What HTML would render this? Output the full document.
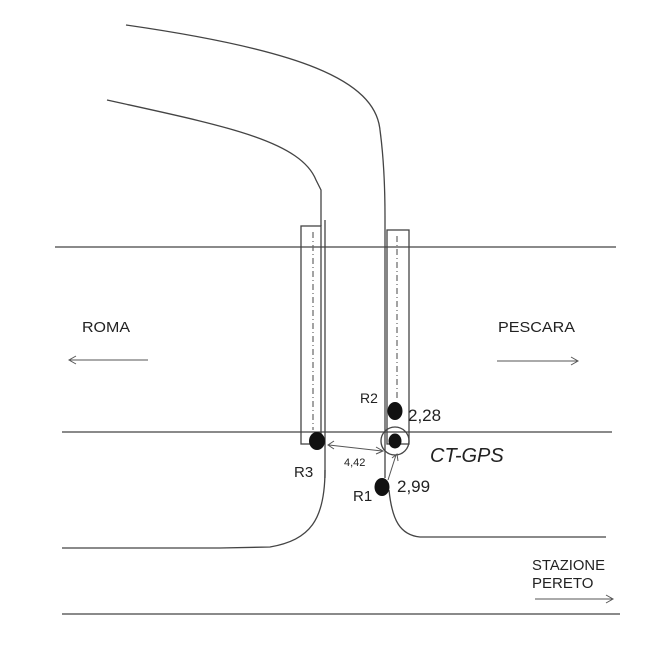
<!DOCTYPE html>
<html><head><style>
html,body{margin:0;padding:0;background:#fff;}
svg{display:block;}
text{font-family:"Liberation Sans",sans-serif;fill:#222;}
</style></head><body>
<svg width="649" height="649" viewBox="0 0 649 649" xmlns="http://www.w3.org/2000/svg">
<g fill="none" stroke="#444" stroke-width="1.3">
<line x1="55" y1="247" x2="616" y2="247"/>
<line x1="62" y1="432" x2="612" y2="432"/>
<line x1="62" y1="614" x2="620" y2="614"/>
<path d="M107 100 C220 125 300 140 316 180 L321 190 L321 226"/>
<path d="M126 25 C300 50 375 80 380 130 C384 160 385 190 385 217"/>
<line x1="325" y1="220" x2="325" y2="478"/>
<line x1="385" y1="217" x2="385" y2="478"/>
<path d="M325 470 C325 520 310 540 270 547 L220 548 L62 548"/>
<path d="M389 490 C392 520 400 535 420 537 L606 537"/>
<rect x="301" y="226" width="20" height="218"/>
<rect x="387" y="230" width="22" height="214"/>
<circle cx="395" cy="441" r="14"/>
</g>
<g stroke="#666" stroke-width="1.2" stroke-dasharray="6,3,1,3">
<line x1="313" y1="232" x2="313" y2="430"/>
<line x1="397" y1="236" x2="397" y2="400"/>
</g>
<g stroke="#555" stroke-width="1" fill="none">
<line x1="70" y1="360" x2="148" y2="360"/><path d="M76 356 L69 360 L76 364"/>
<line x1="497" y1="361" x2="577" y2="361"/><path d="M571 357 L578 361 L571 365"/>
<line x1="535" y1="599" x2="612" y2="599"/><path d="M606 595 L613 599 L606 603"/>
<line x1="329" y1="445" x2="382" y2="451"/><path d="M334 441 L328 445 L334 449"/><path d="M376 447 L383 451 L376 454"/>
<line x1="388" y1="480" x2="396" y2="455"/><path d="M392 458 L397 454 L398 461"/>
</g>
<g fill="#111">
<ellipse cx="395" cy="411" rx="7.5" ry="9"/>
<ellipse cx="395" cy="441" rx="6.5" ry="7.5"/>
<ellipse cx="317" cy="441" rx="8" ry="9"/>
<ellipse cx="382" cy="487" rx="7.5" ry="9"/>
</g>
<text x="82" y="332" font-size="15" textLength="48" lengthAdjust="spacingAndGlyphs">ROMA</text>
<text x="498" y="332" font-size="15" textLength="77" lengthAdjust="spacingAndGlyphs">PESCARA</text>
<text x="360" y="403" font-size="14">R2</text>
<text x="408" y="421" font-size="17">2,28</text>
<text x="430" y="462" font-size="20" font-style="italic">CT-GPS</text>
<text x="344" y="466" font-size="11">4,42</text>
<text x="294" y="477" font-size="15">R3</text>
<text x="397" y="492" font-size="17">2,99</text>
<text x="353" y="501" font-size="15">R1</text>
<text x="532" y="570" font-size="15" textLength="73" lengthAdjust="spacingAndGlyphs">STAZIONE</text>
<text x="532" y="588" font-size="15">PERETO</text>
</svg>
</body></html>
